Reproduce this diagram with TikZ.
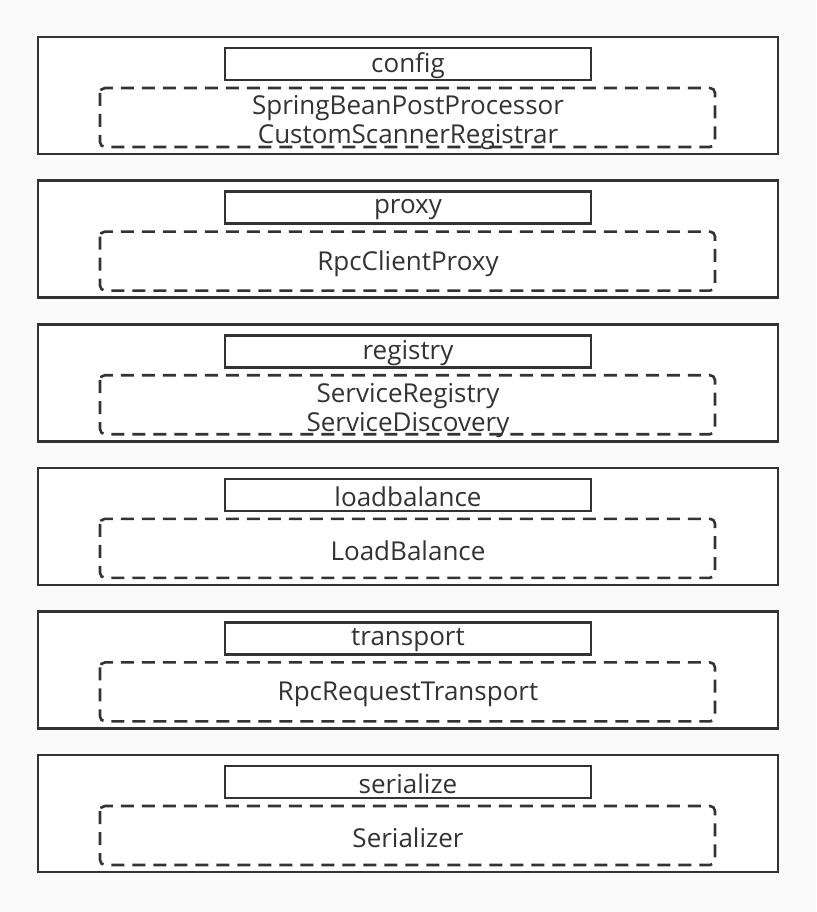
\documentclass[tikz,border=0pt]{standalone}
\usepackage{fontspec}
\setmainfont{Open Sans}
\definecolor{ink}{HTML}{333333}
\definecolor{bg}{HTML}{FAFAFA}
\begin{document}
\begin{tikzpicture}[x=1pt,y=-1pt,
  outerbox/.style={draw=ink,line width=2.6pt,fill=white},
  labelbox/.style={draw=ink,line width=2.6pt},
  dashbox/.style={draw=ink,line width=2.6pt,dash pattern=on 13pt off 8pt,rounded corners=5pt},
  txt/.style={text=ink,font=\fontsize{26}{29}\selectfont,align=center,inner sep=0pt}]
\useasboundingbox[fill=bg] (0,0) rectangle (816,912);
\foreach \i/\lab/\body/\dy [count=\n] in {
  0/config/{SpringBeanPostProcessor\\CustomScannerRegistrar}/3,
  1/proxy/{RpcClientProxy}/0,
  2/registry/{ServiceRegistry\\ServiceDiscovery}/3,
  3/loadbalance/{LoadBalance}/0,
  4/transport/{RpcRequestTransport}/0,
  5/serialize/{Serializer}/0} {
  \pgfmathsetmacro{\t}{37+143.6*\i}
  \draw[outerbox] (38,\t) rectangle (778,\t+117);
  \draw[labelbox] (225,\t+11) rectangle (591,\t+43);
  \draw[dashbox] (100,\t+51) rectangle (715,\t+110);
  \node[txt] (lab\n) at (408,\t+29) {\lab};
  \node[txt] (body\n) at (408,\t+83+\dy) {\body};
}
\end{tikzpicture}
\end{document}
